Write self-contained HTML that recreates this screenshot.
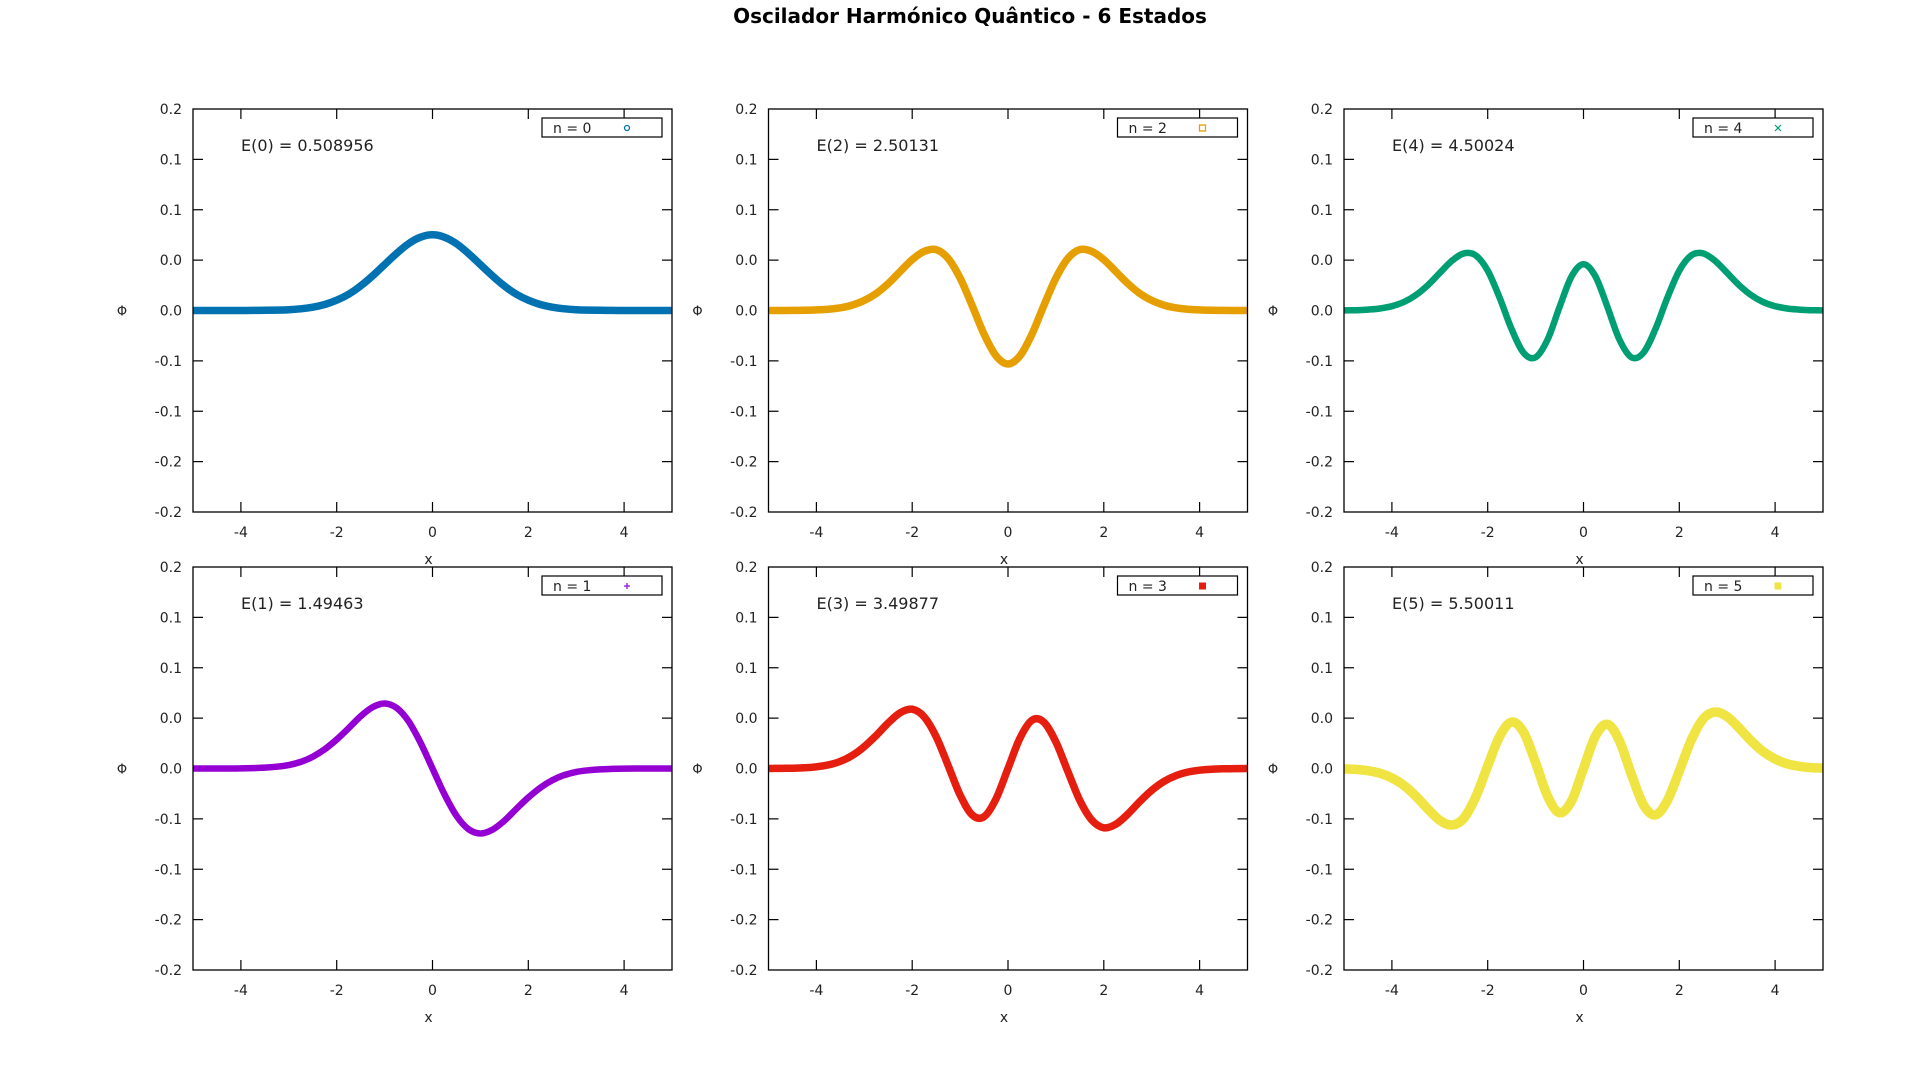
<!DOCTYPE html>
<html><head><meta charset="utf-8"><style>
html,body{margin:0;padding:0;background:#fff;}
svg{display:block;font-family:"DejaVu Sans","Liberation Sans",sans-serif;}
</style></head><body>
<svg id="fig" width="1920" height="1080" viewBox="0 0 1920 1080">
<rect width="1920" height="1080" fill="#fff"/>
<text x="970" y="23" text-anchor="middle" font-size="20" font-weight="bold" fill="#000">Oscilador Harmónico Quântico - 6 Estados</text>
</svg>
<script>
const xValues = [-5,-4.75,-4.5,-4.25,-4,-3.75,-3.5,-3.25,-3,-2.75,-2.5,-2.25,-2,-1.75,-1.5,-1.25,-1,-0.75,-0.5,-0.25,0,0.25,0.5,0.75,1,1.25,1.5,1.75,2,2.25,2.5,2.75,3,3.25,3.5,3.75,4,4.25,4.5,4.75,5];
const psi0 = [0,0,0,0,0,.0001,.0002,.0004,.0008,.0017,.0033,.0060,.0102,.0162,.0244,.0344,.0456,.0567,.0663,.0728,.0751,.0728,.0663,.0567,.0456,.0344,.0244,.0162,.0102,.0060,.0033,.0017,.0008,.0004,.0002,.0001,0,0,0,0,0];
const psi1 = [0,0,0,0,.0001,.0004,.0009,.0018,.0034,.0066,.0117,.0191,.0288,.0401,.0518,.0608,.0645,.0601,.0469,.0257,0,-.0257,-.0469,-.0601,-.0645,-.0608,-.0518,-.0401,-.0288,-.0191,-.0117,-.0066,-.0034,-.0018,-.0009,-.0004,-.0001,0,0,0,0];
const psi2 = [0,0,.0001,.0002,.0006,.0013,.0027,.0054,.0100,.0170,.0268,.0387,.0505,.0587,.0604,.0517,.0322,.0050,-.0234,-.0450,-.0531,-.0450,-.0234,.0050,.0322,.0517,.0604,.0587,.0505,.0387,.0268,.0170,.0100,.0054,.0027,.0013,.0006,.0002,.0001,0,0];
const psi3 = [0,.0001,.0003,.0007,.0017,.0036,.0071,.0130,.0217,.0329,.0453,.0554,.0589,.0512,.0317,.0031,-.0263,-.0460,-.0479,-.0302,0,.0302,.0479,.0460,.0263,-.0031,-.0317,-.0512,-.0589,-.0554,-.0453,-.0329,-.0217,-.0130,-.0071,-.0036,-.0017,-.0007,-.0003,-.0001,0];
const psi4 = [.0001,.0003,.0009,.0020,.0043,.0084,.0153,.0251,.0373,.0492,.0567,.0547,.0396,.0125,-.0187,-.0420,-.0465,-.0288,.0034,.0337,.0460,.0337,.0034,-.0288,-.0465,-.0420,-.0187,.0125,.0396,.0547,.0567,.0492,.0373,.0251,.0153,.0084,.0043,.0020,.0009,.0003,.0001];
const psi5 = [-.0004,-.0009,-.0022,-.0047,-.0094,-.0168,-.0274,-.0401,-.0514,-.0561,-.0493,-.0283,.0026,.0320,.0461,.0360,.0059,-.0275,-.0439,-.0323,0,.0323,.0439,.0275,-.0059,-.0360,-.0461,-.0320,-.0026,.0283,.0493,.0561,.0514,.0401,.0274,.0168,.0094,.0047,.0022,.0009,.0004];
const energyLabels = ["E(0) = 0.508956","E(1) = 1.49463","E(2) = 2.50131","E(3) = 3.49877","E(4) = 4.50024","E(5) = 5.50011"];
const legendLabels = ["n = 0","n = 1","n = 2","n = 3","n = 4","n = 5"];
const xTicks = [-4,-2,0,2,4];
const yTicks = [0.2,0.15,0.1,0.05,0,-0.05,-0.1,-0.15,-0.2];
const yTickLabels = ["0.2","0.1","0.1","0.0","0.0","-0.1","-0.1","-0.2","-0.2"];

const NS="http://www.w3.org/2000/svg";
const svg=document.getElementById('fig');
function mk(tag,attrs,parent){const e=document.createElementNS(NS,tag);for(const k in attrs)e.setAttribute(k,attrs[k]);(parent||svg).appendChild(e);return e;}

const series=[psi0,psi1,psi2,psi3,psi4,psi5];
const colors=["#0072b2","#9400d3","#e69f00","#e51e10","#009e73","#f0e442"];
const widths=[7.5,6.5,7.5,7.5,6.5,9.5];
const markers=["circle","plus","square","fsquare","cross","fsquare"];
const colL=[193,768.5,1344];
const rowT=[109,567];
const W=479,H=403;

for(let n=0;n<6;n++){
  const col=Math.floor(n/2), row=n%2;
  const L=colL[col], T=rowT[row], R=L+W, B=T+H;
  const g=mk('g',{});
  
  
  const sx=v=>L+(v+5)/10*W;
  const sy=v=>T+(0.2-v)/0.4*H;
  const cp=mk('clipPath',{id:'clip'+n},g);
  mk('rect',{x:L,y:T,width:W,height:H},cp);
  for(let i=0;i<yTicks.length;i++){
    const y=sy(yTicks[i]);
    if(i>0&&i<yTicks.length-1){
      mk('line',{x1:L,y1:y,x2:L+10,y2:y,stroke:'#000','stroke-width':1.2},g);
      mk('line',{x1:R,y1:y,x2:R-10,y2:y,stroke:'#000','stroke-width':1.2},g);
    }
    const t=mk('text',{x:L-11,y:y+5,'text-anchor':'end','font-size':14,fill:'#222'},g);
    
    
    t.textContent=yTickLabels[i];
  }
  for(const xv of xTicks){
    const x=sx(xv);
    mk('line',{x1:x,y1:B,x2:x,y2:B-10,stroke:'#000','stroke-width':1.2},g);
    mk('line',{x1:x,y1:T,x2:x,y2:T+10,stroke:'#000','stroke-width':1.2},g);
    const t=mk('text',{x:x,y:B+25,'text-anchor':'middle','font-size':14,fill:'#222'},g);
    
    
    t.textContent=String(xv);
  }
  const xl=mk('text',{x:(L+R)/2-4,y:B+52,'text-anchor':'middle','font-size':14,fill:'#222'},g);
  
  
  xl.textContent='x';
  const yl=mk('text',{x:L-71,y:sy(0)+5,'text-anchor':'middle','font-size':13,fill:'#222'},g);
  
  
  yl.textContent='Φ';
  const data=series[n];
  const P=xValues.map((xv,i)=>[sx(xv),sy(data[i])]);
  let d='M'+P[0][0].toFixed(1)+','+P[0][1].toFixed(1);
  for(let i=0;i<P.length-1;i++){
    const p0=P[Math.max(i-1,0)],p1=P[i],p2=P[i+1],p3=P[Math.min(i+2,P.length-1)];
    const c1=[p1[0]+(p2[0]-p0[0])/6,p1[1]+(p2[1]-p0[1])/6];
    const c2=[p2[0]-(p3[0]-p1[0])/6,p2[1]-(p3[1]-p1[1])/6];
    d+=' C'+c1[0].toFixed(1)+','+c1[1].toFixed(1)+' '+c2[0].toFixed(1)+','+c2[1].toFixed(1)+' '+p2[0].toFixed(1)+','+p2[1].toFixed(1);
  }
  const path=mk('path',{d:d,fill:'none',stroke:colors[n],'stroke-width':widths[n],'stroke-linejoin':'round','stroke-linecap':'round','clip-path':'url(#clip'+n+')'},g);
  
  
  const fr=mk('rect',{x:L,y:T,width:W,height:H,fill:'none',stroke:'#000','stroke-width':1.3},g);
  
  
  const el=mk('text',{x:L+48,y:T+42,'font-size':16,fill:'#222'},g);
  
  
  el.textContent=energyLabels[n];
  const lg=mk('g',{},g);
  
  
  mk('rect',{x:R-130,y:T+9,width:120,height:19,fill:'#fff',stroke:'#000','stroke-width':1.2},lg);
  const lt=mk('text',{x:R-119,y:T+24,'font-size':14,fill:'#222'},lg);
  lt.textContent=legendLabels[n];
  const mx=R-45,my=T+19,c=colors[n];
  if(markers[n]==='circle')mk('circle',{cx:mx,cy:my,r:2.5,fill:'none',stroke:c,'stroke-width':1.3},lg);
  else if(markers[n]==='square')mk('rect',{x:mx-3,y:my-3,width:6,height:6,fill:'none',stroke:c,'stroke-width':1.3},lg);
  else if(markers[n]==='fsquare')mk('rect',{x:mx-3.5,y:my-3.5,width:7,height:7,fill:c},lg);
  else if(markers[n]==='plus'){mk('line',{x1:mx-3,y1:my,x2:mx+3,y2:my,stroke:c,'stroke-width':1.2},lg);mk('line',{x1:mx,y1:my-3,x2:mx,y2:my+3,stroke:c,'stroke-width':1.2},lg);}
  else {mk('line',{x1:mx-3,y1:my-3,x2:mx+3,y2:my+3,stroke:c,'stroke-width':1.2},lg);mk('line',{x1:mx-3,y1:my+3,x2:mx+3,y2:my-3,stroke:c,'stroke-width':1.2},lg);}
}
</script>
</body></html>
